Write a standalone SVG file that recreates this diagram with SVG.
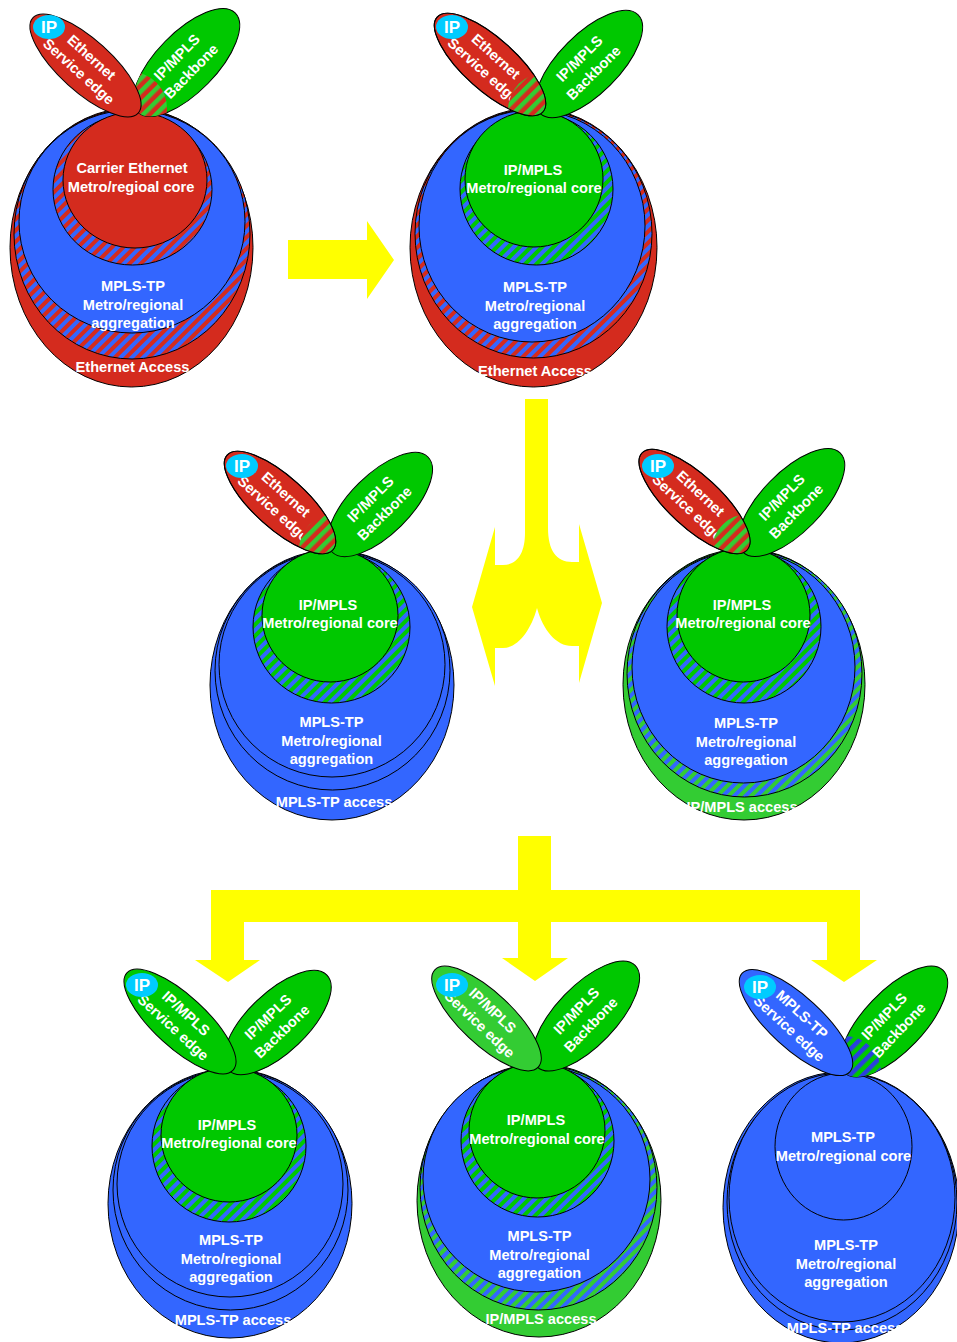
<svg xmlns="http://www.w3.org/2000/svg" width="957" height="1342" viewBox="0 0 957 1342">
  <style>
    .o { stroke: #000; stroke-width: 1; }
    .red { fill: #D42B1E; }
    .blue { fill: #3366FF; }
    .green { fill: #00C800; }
    .lgreen { fill: #33CC33; }
    .cyan { fill: #00CCFF; }
    .none { fill: none; }
    .arrow { fill: #FFFF00; }
    text { font-family: "Liberation Sans", Arial, sans-serif; font-weight: bold; font-size: 14.6px; fill: #fff; text-anchor: middle; }
    text.ip { font-size: 17px; }
  </style>
  <defs>
    <!-- diagonal two-colour stripes for mixed-technology zones -->
    <pattern id="hRB" width="8" height="8" patternUnits="userSpaceOnUse" patternTransform="rotate(45)">
      <rect width="8" height="8" fill="#D42B1E"/><rect width="4" height="8" fill="#3366FF"/>
    </pattern>
    <pattern id="hGB" width="8" height="8" patternUnits="userSpaceOnUse" patternTransform="rotate(45)">
      <rect width="8" height="8" fill="#00C800"/><rect width="4" height="8" fill="#3366FF"/>
    </pattern>
    <pattern id="hLB" width="8" height="8" patternUnits="userSpaceOnUse" patternTransform="rotate(45)">
      <rect width="8" height="8" fill="#33CC33"/><rect width="4" height="8" fill="#3366FF"/>
    </pattern>
    <pattern id="hRG" width="9" height="9" patternUnits="userSpaceOnUse" patternTransform="rotate(45)">
      <rect width="9" height="9" fill="#D42B1E"/><rect width="4.5" height="9" fill="#33CC33"/>
    </pattern>
    <pattern id="hBG" width="9" height="9" patternUnits="userSpaceOnUse" patternTransform="rotate(45)">
      <rect width="9" height="9" fill="#00C800"/><rect width="4.5" height="9" fill="#2A3FE0"/>
    </pattern>
    <clipPath id="c1"><ellipse transform="translate(186.5,62.5) rotate(-45.6)" rx="69.5" ry="30"/></clipPath>
    <clipPath id="c2"><ellipse transform="translate(490,64.5) rotate(41.9)" rx="71" ry="26"/></clipPath>
    <clipPath id="c3"><ellipse transform="translate(280,502.5) rotate(41.9)" rx="71" ry="26"/></clipPath>
    <clipPath id="c4"><ellipse transform="translate(694.5,501.5) rotate(42.7)" rx="71.5" ry="26"/></clipPath>
    <clipPath id="c7"><ellipse transform="translate(894,1021.5) rotate(-46.4)" rx="71" ry="30"/></clipPath>
  </defs>

  <!-- yellow transition arrows -->
  <g id="connectors">
    <path class="arrow" d="M288,240 H367 V221 L394,260 L367,299 V279 H288 Z"/>
    <path class="arrow" d="M525,399 H548 V528 C548,550 556,562 572,562 H579 V524 L602,603 L579,683 V646 H572 C556,646 543,630 537,608 C531,630 518,648 503,648 H495 V686 L472,607 L495,527 V565 H503 C518,565 525,552 525,533 Z"/>
    <path class="arrow" d="M518,836 H551 V890 H860 V960 H877 L844,982 L811,960 H827 V922 H551 V958 H568 L535,981 L502,958 H518 V922 H244 V960 H260 L228,982 L195,960 H211 V890 H518 Z"/>
  </g>

  <!-- Stage 1: Carrier Ethernet core -->
  <g id="stage-ethernet-core">
    <ellipse class="o red" cx="131.5" cy="247.5" rx="121.5" ry="139.5"/>
    <ellipse class="o" fill="url(#hRB)" cx="132" cy="234" rx="118" ry="125"/>
    <ellipse class="o blue" cx="132" cy="221.5" rx="113" ry="111.5"/>
    <ellipse class="o" fill="url(#hRB)" cx="132.5" cy="189.5" rx="79.5" ry="75.5"/>
    <ellipse class="o red" cx="135" cy="180" rx="72" ry="68"/>
    <text x="132" y="173">Carrier Ethernet</text>
    <text x="131" y="192">Metro/regioal core</text>
    <text x="133" y="291">MPLS-TP</text>
    <text x="133" y="309.5">Metro/regional</text>
    <text x="133" y="328">aggregation</text>
    <text x="132.5" y="372">Ethernet Access</text>
    <ellipse class="o green" transform="translate(186.5,62.5) rotate(-45.6)" rx="69.5" ry="30"/>
    <circle cx="131" cy="108" r="36" fill="url(#hRG)" clip-path="url(#c1)"/>
    <g transform="translate(85.5,65.5) rotate(42.1)">
      <ellipse class="o red" rx="71" ry="26"/>
      <text x="-1" y="-5">Ethernet</text>
      <text x="-1" y="14">Service edge</text>
    </g>
    <g transform="translate(186.5,62.5) rotate(-45.6)">
      <text x="-3" y="-5.5">IP/MPLS</text>
      <text x="-3" y="14.5">Backbone</text>
    </g>
    <ellipse class="cyan" cx="49" cy="27" rx="16" ry="12"/>
    <text class="ip" x="49" y="33">IP</text>
  </g>

  <!-- Stage 2: IP/MPLS core, Ethernet access -->
  <g id="stage-ipmpls-core">
    <ellipse class="o red" cx="533.5" cy="247.5" rx="123.5" ry="139.5"/>
    <ellipse class="o" fill="url(#hRB)" cx="533.5" cy="233.5" rx="118.5" ry="124.5"/>
    <ellipse class="o blue" cx="532" cy="226" rx="113" ry="116"/>
    <ellipse class="o" fill="url(#hGB)" cx="536.5" cy="189" rx="76.5" ry="76"/>
    <ellipse class="o green" cx="534" cy="179" rx="69" ry="68"/>
    <text x="533" y="175">IP/MPLS</text>
    <text x="534" y="193">Metro/regional core</text>
    <text x="535" y="292">MPLS-TP</text>
    <text x="535" y="310.5">Metro/regional</text>
    <text x="535" y="329">aggregation</text>
    <text x="535" y="376">Ethernet Access</text>
    <g transform="translate(589,64) rotate(-45)">
      <ellipse class="o green" rx="69.5" ry="30"/>
      <text x="-3" y="-5.5">IP/MPLS</text>
      <text x="-3" y="14.5">Backbone</text>
    </g>
    <g transform="translate(490,64.5) rotate(41.9)">
      <ellipse class="o red" rx="71" ry="26"/>
      <text x="-1" y="-5">Ethernet</text>
      <text x="-1" y="14">Service edge</text>
    </g>
    <circle cx="545" cy="110" r="37" fill="url(#hRG)" clip-path="url(#c2)"/>
    <ellipse class="o none" transform="translate(490,64.5) rotate(41.9)" rx="71" ry="26"/>
    <ellipse class="cyan" cx="452" cy="27" rx="16" ry="12"/>
    <text class="ip" x="452" y="33">IP</text>
  </g>

  <!-- Stage 3a: MPLS-TP access -->
  <g id="stage-mplstp-access">
    <ellipse class="o blue" cx="332" cy="685" rx="122" ry="135"/>
    <ellipse class="o blue" cx="332.5" cy="670.5" rx="117.5" ry="119.5"/>
    <ellipse class="o blue" cx="332" cy="664.5" rx="113" ry="112.5"/>
    <ellipse class="o" fill="url(#hGB)" cx="331.5" cy="627" rx="78.5" ry="76"/>
    <ellipse class="o green" cx="330" cy="615.5" rx="68" ry="66.5"/>
    <text x="328" y="610">IP/MPLS</text>
    <text x="330" y="628">Metro/regional core</text>
    <text x="331.5" y="727">MPLS-TP</text>
    <text x="331.5" y="745.5">Metro/regional</text>
    <text x="331.5" y="763.5">aggregation</text>
    <text x="334" y="807">MPLS-TP access</text>
    <g transform="translate(380,504.5) rotate(-44.7)">
      <ellipse class="o green" rx="67.5" ry="30"/>
      <text x="-3" y="-5.5">IP/MPLS</text>
      <text x="-3" y="14.5">Backbone</text>
    </g>
    <g transform="translate(280,502.5) rotate(41.9)">
      <ellipse class="o red" rx="71" ry="26"/>
      <text x="-1" y="-5">Ethernet</text>
      <text x="-1" y="14">Service edge</text>
    </g>
    <circle cx="335" cy="550" r="36" fill="url(#hRG)" clip-path="url(#c3)"/>
    <ellipse class="o none" transform="translate(280,502.5) rotate(41.9)" rx="71" ry="26"/>
    <ellipse class="cyan" cx="242" cy="466" rx="16" ry="12"/>
    <text class="ip" x="242" y="472">IP</text>
  </g>

  <!-- Stage 3b: IP/MPLS access -->
  <g id="stage-ipmpls-access">
    <ellipse class="o lgreen" cx="744" cy="684.5" rx="121" ry="135.5"/>
    <ellipse class="o" fill="url(#hLB)" cx="744.5" cy="673.5" rx="117.5" ry="123.5"/>
    <ellipse class="o blue" cx="743.5" cy="667" rx="111.5" ry="116"/>
    <ellipse class="o" fill="url(#hGB)" cx="744" cy="626.5" rx="77" ry="76.5"/>
    <ellipse class="o green" cx="743.5" cy="615" rx="66.5" ry="67"/>
    <text x="742" y="610">IP/MPLS</text>
    <text x="743" y="628">Metro/regional core</text>
    <text x="746" y="728">MPLS-TP</text>
    <text x="746" y="746.5">Metro/regional</text>
    <text x="746" y="765">aggregation</text>
    <text x="742" y="812">IP/MPLS access</text>
    <g transform="translate(791.5,502.5) rotate(-45.6)">
      <ellipse class="o green" rx="69.5" ry="30"/>
      <text x="-3" y="-5.5">IP/MPLS</text>
      <text x="-3" y="14.5">Backbone</text>
    </g>
    <g transform="translate(694.5,501.5) rotate(42.7)">
      <ellipse class="o red" rx="71.5" ry="26"/>
      <text x="-1" y="-5">Ethernet</text>
      <text x="-1" y="14">Service edge</text>
    </g>
    <circle cx="748" cy="550" r="36" fill="url(#hRG)" clip-path="url(#c4)"/>
    <ellipse class="o none" transform="translate(694.5,501.5) rotate(42.7)" rx="71.5" ry="26"/>
    <ellipse class="cyan" cx="658" cy="466" rx="16" ry="12"/>
    <text class="ip" x="658" y="472">IP</text>
  </g>

  <!-- End state A: IP/MPLS edge, MPLS-TP access -->
  <g id="end-mplstp-access">
    <ellipse class="o blue" cx="230" cy="1203.5" rx="122" ry="134.5"/>
    <ellipse class="o blue" cx="230.5" cy="1190" rx="117.5" ry="120"/>
    <ellipse class="o blue" cx="230" cy="1184" rx="113" ry="113"/>
    <ellipse class="o" fill="url(#hGB)" cx="229" cy="1146" rx="77" ry="76"/>
    <ellipse class="o green" cx="229" cy="1135" rx="68" ry="67"/>
    <text x="227" y="1130">IP/MPLS</text>
    <text x="229" y="1148">Metro/regional core</text>
    <text x="231" y="1245">MPLS-TP</text>
    <text x="231" y="1263.5">Metro/regional</text>
    <text x="231" y="1282">aggregation</text>
    <text x="233" y="1325">MPLS-TP access</text>
    <g transform="translate(277.5,1022.5) rotate(-43.8)">
      <ellipse class="o green" rx="68.5" ry="30"/>
      <text x="-3" y="-5.5">IP/MPLS</text>
      <text x="-3" y="14.5">Backbone</text>
    </g>
    <g transform="translate(180,1021.5) rotate(42.5)">
      <ellipse class="o green" rx="72" ry="26"/>
      <text x="-1" y="-5">IP/MPLS</text>
      <text x="-1" y="14">Service edge</text>
    </g>
    <ellipse class="cyan" cx="142" cy="985" rx="16" ry="12"/>
    <text class="ip" x="142" y="991">IP</text>
  </g>

  <!-- End state B: IP/MPLS edge, IP/MPLS access -->
  <g id="end-ipmpls-access">
    <ellipse class="o lgreen" cx="539" cy="1200.5" rx="122" ry="136.5"/>
    <ellipse class="o" fill="url(#hLB)" cx="538.5" cy="1187.5" rx="118.5" ry="122.5"/>
    <ellipse class="o blue" cx="536.5" cy="1179" rx="113.5" ry="113"/>
    <ellipse class="o" fill="url(#hGB)" cx="537.5" cy="1141" rx="76.5" ry="76"/>
    <ellipse class="o green" cx="537" cy="1130.5" rx="68" ry="67.5"/>
    <text x="536" y="1125">IP/MPLS</text>
    <text x="537" y="1144">Metro/regional core</text>
    <text x="539.5" y="1241">MPLS-TP</text>
    <text x="539.5" y="1259.5">Metro/regional</text>
    <text x="539.5" y="1278">aggregation</text>
    <text x="541" y="1324">IP/MPLS access</text>
    <g transform="translate(586,1016) rotate(-46.1)">
      <ellipse class="o green" rx="70.5" ry="30"/>
      <text x="-3" y="-5.5">IP/MPLS</text>
      <text x="-3" y="14.5">Backbone</text>
    </g>
    <g transform="translate(486.5,1018.5) rotate(43.3)">
      <ellipse class="o lgreen" rx="71" ry="26"/>
      <text x="-1" y="-5">IP/MPLS</text>
      <text x="-1" y="14">Service edge</text>
    </g>
    <ellipse class="cyan" cx="452" cy="985" rx="16" ry="12"/>
    <text class="ip" x="452" y="991">IP</text>
  </g>

  <!-- End state C: MPLS-TP everywhere below the backbone -->
  <g id="end-mplstp-core">
    <ellipse class="o blue" cx="841" cy="1207.5" rx="118" ry="135.5"/>
    <ellipse class="o blue" cx="842" cy="1202" rx="115" ry="128"/>
    <ellipse class="o blue" cx="842" cy="1197.5" rx="113" ry="124.5"/>
    <ellipse class="o blue" cx="843.5" cy="1146.5" rx="68.5" ry="73.5"/>
    <text x="843" y="1142">MPLS-TP</text>
    <text x="843.5" y="1161">Metro/regional core</text>
    <text x="846" y="1250">MPLS-TP</text>
    <text x="846" y="1268.5">Metro/regional</text>
    <text x="846" y="1287">aggregation</text>
    <text x="845" y="1333">MPLS-TP access</text>
    <ellipse class="o green" transform="translate(894,1021.5) rotate(-46.4)" rx="71" ry="30"/>
    <circle cx="845" cy="1072" r="36" fill="url(#hBG)" clip-path="url(#c7)"/>
    <g transform="translate(796,1022.5) rotate(42.5)">
      <ellipse class="o blue" rx="73" ry="26"/>
      <text x="-1" y="-5">MPLS-TP</text>
      <text x="-1" y="14">Service edge</text>
    </g>
    <g transform="translate(894,1021.5) rotate(-46.4)">
      <text x="-3" y="-5.5">IP/MPLS</text>
      <text x="-3" y="14.5">Backbone</text>
    </g>
    <ellipse class="cyan" cx="760" cy="987" rx="16" ry="12"/>
    <text class="ip" x="760" y="993">IP</text>
  </g>
</svg>
